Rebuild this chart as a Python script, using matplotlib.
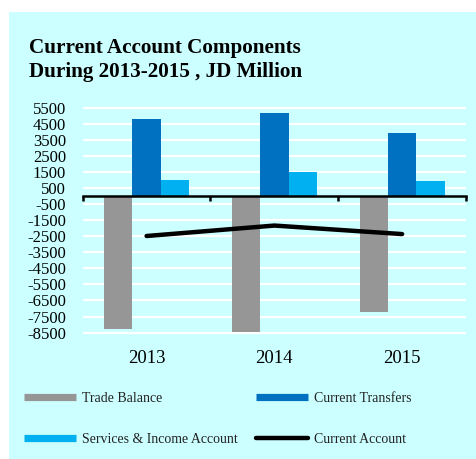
import matplotlib
matplotlib.use("Agg")
import matplotlib.pyplot as plt
from matplotlib.patches import Rectangle
from matplotlib.lines import Line2D
import numpy as np

plt.rcParams['font.family'] = ['Liberation Serif', 'DejaVu Serif']

years = ["2013", "2014", "2015"]
trade_balance = [-8260, -8480, -7220]
current_transfers = [4790, 5150, 3920]
services_income = [980, 1490, 930]
current_account = [-2490, -1840, -2370]
y_ticks = list(range(-8500, 6000, 1000))

W, H = 476, 459
fig = plt.figure(figsize=(W / 100, H / 100), dpi=100, facecolor="white")

# light cyan panel behind the whole chart
panel_color = "#CCFFFF"
fig.patches.append(Rectangle((9 / W, 0), 1 - 9 / W, 1 - 12 / H,
                             transform=fig.transFigure, facecolor=panel_color,
                             edgecolor="none", zorder=-10))

fig.text(29 / W, 1 - 38 / H,
         "Current Account Components\nDuring 2013-2015 , JD Million",
         ha="left", va="top", fontsize=15.2, fontweight="bold",
         linespacing=1.25, color="black")

left, right = 82.7 / W, 466 / W
bottom, top = 1 - 340.6 / H, 1 - 99.6 / H
ax = fig.add_axes([left, bottom, right - left, top - bottom])
ax.set_facecolor("none")

x = np.arange(len(years))
bw = 0.222
ax.bar(x - bw, trade_balance, bw, color="#969696", zorder=3, label="Trade Balance")
ax.bar(x, current_transfers, bw, color="#0070C0", zorder=3, label="Current Transfers")
ax.bar(x + bw, services_income, bw, color="#00B0F0", zorder=3,
       label="Services & Income Account")
ax.plot(x, current_account, color="black", lw=3.2, solid_capstyle="round",
        zorder=5, label="Current Account")

ax.set_xlim(-0.5, 2.5)
ax.set_ylim(-9000, 6000)
ax.set_yticks(y_ticks)
ax.set_yticklabels([str(v) for v in y_ticks], fontsize=12)
ax.tick_params(axis="y", length=0, pad=12)
ax.yaxis.grid(True, color="white", lw=1.6, zorder=1)
ax.set_axisbelow(True)

for s in ["left", "right", "top"]:
    ax.spines[s].set_visible(False)
# category axis drawn along zero
ax.spines["bottom"].set_position(("data", 0))
ax.spines["bottom"].set_linewidth(1.8)
ax.spines["bottom"].set_zorder(6)
ax.set_xticks([-0.5, 0.5, 1.5, 2.5])
ax.set_xticklabels([])
ax.tick_params(axis="x", direction="out", length=3.5, width=1.8, color="black")

sec = ax.secondary_xaxis(0.0)
sec.set_xticks(x)
sec.set_xticklabels(years, fontsize=13.5)
sec.tick_params(length=0, pad=7)
sec.spines["bottom"].set_visible(False)

handles = [
    Line2D([], [], color="#969696", lw=5.2, solid_capstyle="butt"),
    Line2D([], [], color="#00B0F0", lw=5.2, solid_capstyle="butt"),
    Line2D([], [], color="#0070C0", lw=5.2, solid_capstyle="butt"),
    Line2D([], [], color="black", lw=3.2, solid_capstyle="round"),
]
labels = ["Trade Balance", "Services & Income Account",
          "Current Transfers", "Current Account"]
fig.legend(handles, labels, ncol=2, loc="upper left",
           bbox_to_anchor=(24 / W, 1 - 392 / H), frameon=False,
           fontsize=10, handlelength=3.75, handletextpad=0.4,
           columnspacing=1.37, labelspacing=2.0, borderpad=0, borderaxespad=0,
           labelcolor="#222222")

fig.savefig("out.png", dpi=100, facecolor="white")
